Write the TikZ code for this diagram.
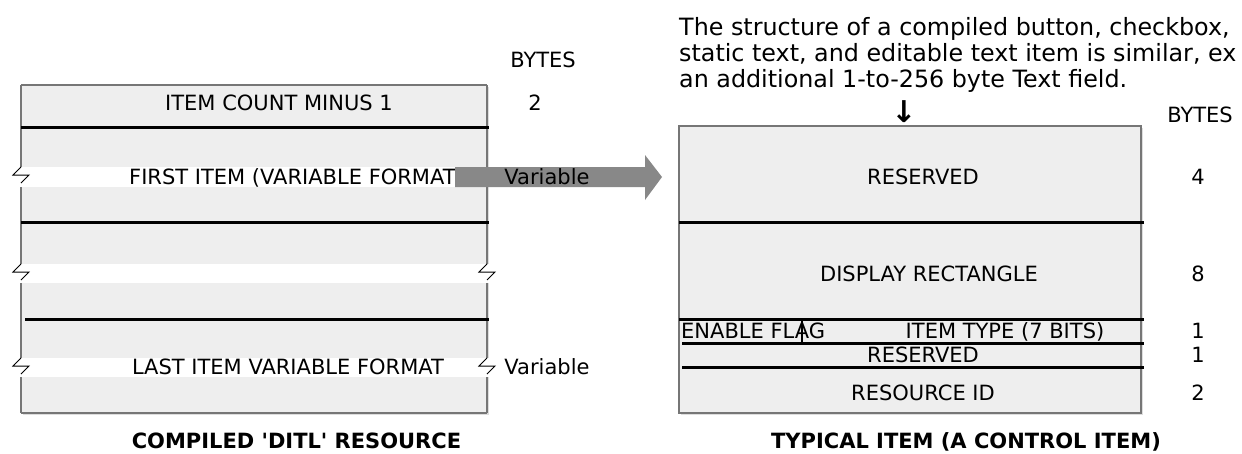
\documentclass[tikz,border=0pt]{standalone}
\usepackage{fontspec}
\setmainfont{DejaVu Sans}
\definecolor{boxgray}{HTML}{EEEEEE}
\definecolor{edgegray}{HTML}{767676}
\definecolor{shadowgray}{HTML}{DDDDDD}
\definecolor{arrowgray}{HTML}{888888}
\begin{document}
\begin{tikzpicture}[x=1pt,y=-1pt,
  txt/.style={font=\fontsize{21}{24}\selectfont, inner sep=0pt, anchor=base},
  para/.style={font=\fontsize{23.8}{26}\selectfont, inner sep=0pt, anchor=base west},
  ttl/.style={font=\fontsize{21}{24}\selectfont\bfseries, inner sep=0pt, anchor=base},
  edge/.style={draw=edgegray, line width=1.5pt},
  sep/.style={draw=black, line width=3pt},
  brk/.style={draw=black, line width=1pt}]
\useasboundingbox (0,0) rectangle (1242,453);
\clip (0,0) rectangle (1242,453);

% ---------------- left box ----------------
\fill[shadowgray] (23,87) rectangle (489,415);
\fill[boxgray] (21,85) rectangle (487,413);
\fill[white] (10,167) rectangle (455,187);
\fill[white] (10,264) rectangle (500,283);
\fill[white] (10,358) rectangle (500,377);
\draw[edge] (21,85) -- (487,85);
\draw[edge] (21,413) -- (487,413);
\draw[edge] (21,85) -- (21,167) (21,187) -- (21,264) (21,283) -- (21,358) (21,377) -- (21,413);
\draw[edge] (487,85) -- (487,264) (487,283) -- (487,358) (487,377) -- (487,413);
\foreach \X/\T in {21/167, 21/264, 21/358, 487/264, 487/358}
  \draw[brk] (\X,\T) -- ++(-8,8) -- ++(16,0) -- ++(-8,8);
\draw[sep] (21,127) -- (489,127);
\draw[sep] (21,222) -- (489,222);
\draw[sep] (25,319) -- (489,319);

\node[txt] (bytesL) at (543,67.5) {BYTES};
\node[txt] (count) at (279,110.5) {ITEM COUNT MINUS 1};
\node[txt] (countB) at (535,110.5) {2};
\node[txt,anchor=base west] (first) at (129,184.5) {FIRST ITEM (VARIABLE FORMAT)};
% block arrow
\coordinate (arrS) at (455,177);
\coordinate (arrE) at (662,177);
\fill[arrowgray] (arrS) ++(0,-10) -- (645,167) -- (645,155) -- (arrE) -- (645,200) -- (645,187) -- (455,187) -- cycle;
\node[txt] (firstB) at (547,184.5) {Variable};
\node[txt] (last) at (288,374.5) {LAST ITEM VARIABLE FORMAT};
\node[txt] (lastB) at (547,374.5) {Variable};
\node[ttl] (titleL) at (296.5,448.5) {COMPILED \textquotesingle DITL\textquotesingle{} RESOURCE};

% ---------------- right box ----------------
\node[para] (p1) at (679,35.5) {The structure of a compiled button, checkbox,};
\node[para] (p2) at (679,61.5) {static text, and editable text item is similar, ex};
\node[para] (p3) at (679,87) {an additional 1-to-256 byte Text field.};
\node[txt,font=\fontsize{30}{32}\selectfont\bfseries] (down) at (904,122) {↓};
\node[txt] (bytesR) at (1200,122.5) {BYTES};

\fill[shadowgray] (681,128) rectangle (1143,415);
\fill[boxgray] (679,126) rectangle (1141,413);
\draw[edge] (679,126) rectangle (1141,413);
\draw[sep] (679,222) -- (1144,222);
\draw[sep] (679,319) -- (1144,319);
\draw[sep] (682,343) -- (1144,343);
\draw[sep] (682,367) -- (1144,367);
\draw[black, line width=2pt] (802,319) -- (802,344);

\node[txt] (res1) at (923,184.5) {RESERVED};
\node[txt] (res1B) at (1198,184.5) {4};
\node[txt] (disp) at (929,281.5) {DISPLAY RECTANGLE};
\node[txt] (dispB) at (1198,281.5) {8};
\node[txt,anchor=base west] (enable) at (681,338.5) {ENABLE FLAG};
\node[txt] (itype) at (1005,338.5) {ITEM TYPE (7 BITS)};
\node[txt] (itypeB) at (1198,338.5) {1};
\node[txt] (res2) at (923,362.5) {RESERVED};
\node[txt] (res2B) at (1198,362.5) {1};
\node[txt] (rid) at (923,400.5) {RESOURCE ID};
\node[txt] (ridB) at (1198,400.5) {2};
\node[ttl] (titleR) at (966,448.5) {TYPICAL ITEM (A CONTROL ITEM)};
\end{tikzpicture}
\end{document}
